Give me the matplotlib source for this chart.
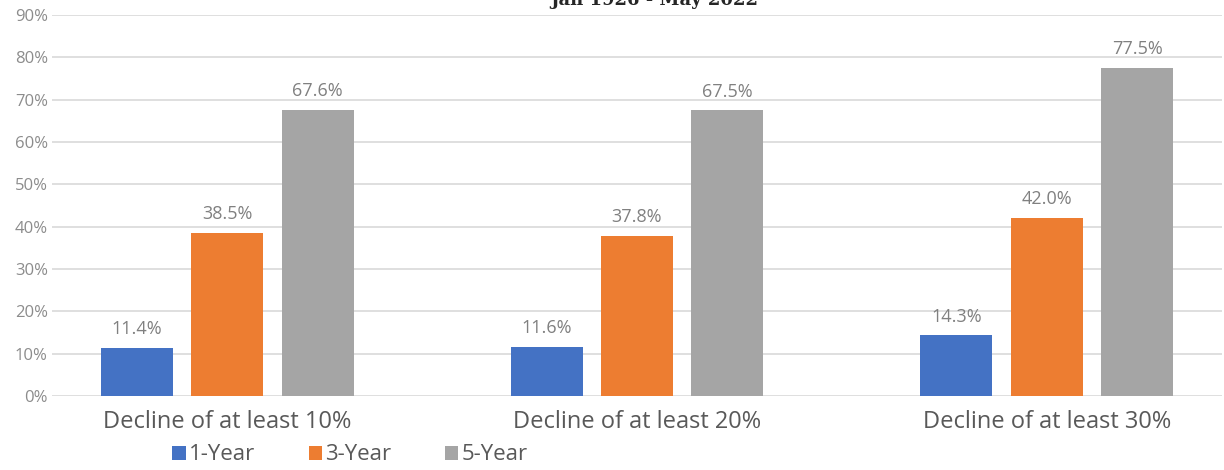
import matplotlib
matplotlib.use("Agg")
import matplotlib.pyplot as plt
import numpy as np
from matplotlib.patches import Patch

categories = ["Decline of at least 10%", "Decline of at least 20%", "Decline of at least 30%"]
series_names = ["1-Year", "3-Year", "5-Year"]
one_year = [11.4, 11.6, 14.3]
three_year = [38.5, 37.8, 42.0]
five_year = [67.6, 67.5, 77.5]
y_ticks = [0, 10, 20, 30, 40, 50, 60, 70, 80, 90]
title = "Jan 1926 - May 2022"

colors = ["#4472C4", "#ED7D31", "#A5A5A5"]
font = "Open Sans"

fig = plt.figure(figsize=(12.24, 4.70), dpi=100)
ax = fig.add_axes([52/1224, 74/470, 1170/1224, 381/470])

x = np.arange(len(categories))
width = 0.1756
stride = 0.2207
for i, (vals, c) in enumerate(zip([one_year, three_year, five_year], colors)):
    pos = x + (i - 1) * stride
    bars = ax.bar(pos, vals, width=width, color=c, zorder=3)
    for b, v in zip(bars, vals):
        ax.annotate(f"{v:.1f}%", (b.get_x() + b.get_width()/2, v),
                    xytext=(0, 7), textcoords="offset points",
                    ha="center", va="bottom", fontsize=13, color="#808080",
                    family=font)

ax.set_xlim(-0.427, 2.427)
ax.set_ylim(0, 90)
ax.set_yticks(y_ticks)
ax.set_yticklabels([f"{t}%" for t in y_ticks], fontsize=12, color="#8c8c8c", family=font)
ax.set_xticks(x)
ax.set_xticklabels(categories, fontsize=17, color="#595959", family=font)
ax.tick_params(axis="y", length=0, pad=3)
ax.tick_params(axis="x", length=0, pad=10)
ax.grid(axis="y", color="#d9d9d9", linewidth=1.2, zorder=0)
for s in ax.spines.values():
    s.set_visible(False)

fig.text(654/1224, 1 - 5/470, title, ha="center", va="baseline",
         fontsize=13, fontweight="bold", color="#262626", family="DejaVu Serif")

handles = [Patch(facecolor=c) for c in colors]
leg = fig.legend(handles, series_names, loc="center", bbox_to_anchor=(350/1224, 1 - 455/470),
                 ncol=3, frameon=False, handlelength=0.6, handleheight=0.6,
                 handletextpad=0.15, columnspacing=2.4, prop={"family": font, "size": 16})
for t in leg.get_texts():
    t.set_color("#595959")

fig.savefig("out.png", dpi=100)
